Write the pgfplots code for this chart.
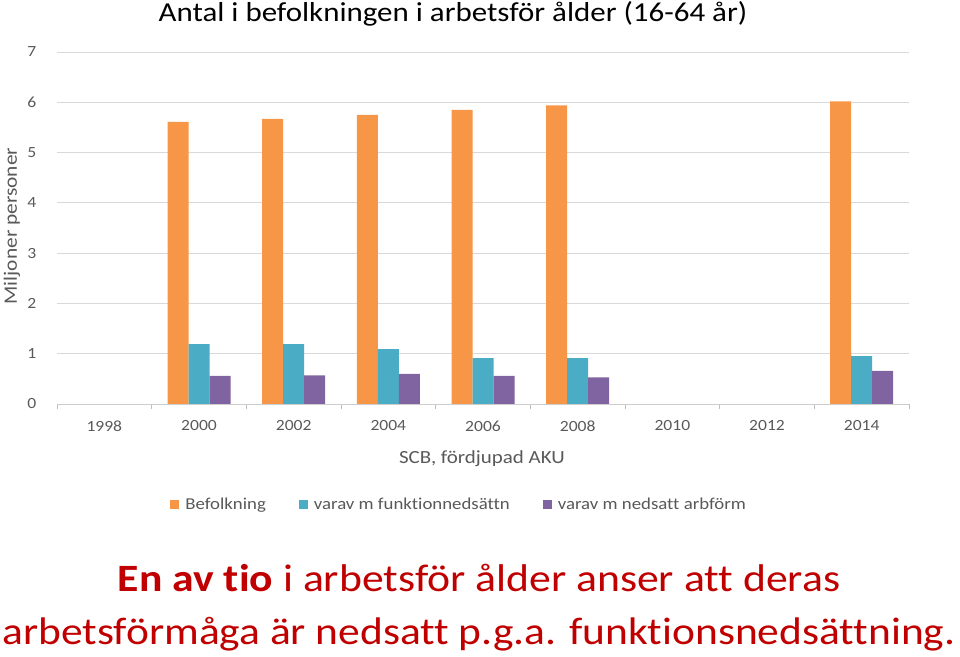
\documentclass[border=0pt]{standalone}
\usepackage{pgfplots}
\pgfplotsset{compat=1.18}
\usepackage{graphicx}
\usepackage{fontspec}
\setmainfont[Ligatures=NoCommon]{Carlito}
\definecolor{cOr}{HTML}{F79646}
\definecolor{cTe}{HTML}{4BACC6}
\definecolor{cPu}{HTML}{8064A2}
\definecolor{cGr}{HTML}{595959}
\definecolor{cRed}{HTML}{C00000}
\newcommand{\sx}[1]{\scalebox{1.13}[1]{#1}}
\begin{document}
\begin{tikzpicture}[x=1bp,y=1bp]
\begin{axis}[
  at={(57bp,253bp)}, anchor=south west,
  scale only axis, width=852bp, height=352bp,
  xmin=-0.5, xmax=8.5, ymin=0, ymax=7,
  ytick={0,...,7},
  xtick={0,...,8},
  xticklabels={1998,2000,2002,2004,2006,2008,2010,2012,2014},
  minor xtick={-0.5,0.5,...,8.5},
  major x tick style={draw=none},
  minor x tick style={draw=black!25, line width=0.8pt},
  minor tick length=5bp,
  tick align=outside,
  xtick pos=bottom,
  ytick pos=left,
  major y tick style={draw=none},
  axis x line*=bottom,
  axis y line*=left,
  y axis line style={draw=none},
  x axis line style={draw=black!20, line width=0.8pt, -},
  ymajorgrids, grid style={draw=black!15, line width=0.8pt},
  ticklabel style={font=\fontsize{15.6}{18}\selectfont, text=cGr, xscale=1.13},
  xticklabel style={yshift=-9bp},
  yticklabel style={xshift=-11bp},
  /pgf/number format/assume math mode=true,
  ybar, bar width=21bp,
  every axis plot/.append style={draw=none},
  legend columns=3,
  legend style={at={(axis description cs:0.472,-0.285)}, anchor=center, draw=none,
    font=\fontsize{16.7}{20}\selectfont, text=cGr,
    /tikz/every odd column/.append style={column sep=4bp},
    /tikz/every even column/.append style={column sep=31bp}},
  legend image code/.code={\fill[#1] (0bp,-4.5bp) rectangle (9bp,4.5bp);},
]
\addplot[fill=cOr, bar shift=-21bp] coordinates {(1,5.61) (2,5.67) (3,5.75) (4,5.85) (5,5.94) (8,6.02)};
\addplot[fill=cTe, bar shift=0bp] coordinates {(1,1.19) (2,1.19) (3,1.09) (4,0.91) (5,0.91) (8,0.95)};
\addplot[fill=cPu, bar shift=21bp] coordinates {(1,0.56) (2,0.57) (3,0.60) (4,0.56) (5,0.53) (8,0.66)};
\legend{\sx{Befolkning}, \sx{varav m funktionnedsättn}, \sx{varav m nedsatt arbförm}}
\end{axis}
\node[font=\fontsize{27.5}{32}\selectfont, anchor=base] at (453,635) {\sx{Antal i befolkningen i arbetsför ålder (16-64 år)}};
\node[rotate=90, font=\fontsize{19}{22}\selectfont, text=cGr] at (12,431) {\sx{Miljoner personer}};
\node[font=\fontsize{18.6}{22}\selectfont, text=cGr] at (482,198) {\sx{SCB, fördjupad AKU}};
\node[font=\fontsize{38.8}{44}\selectfont, text=cRed, anchor=base] at (479,65) {\sx{\textbf{En av tio} i arbetsför ålder anser att deras}};
\node[font=\fontsize{38.6}{44}\selectfont, text=cRed, anchor=base] at (479,12) {\sx{arbetsförmåga är nedsatt p.g.a. funktionsnedsättning.}};
\pgfresetboundingbox
\path[use as bounding box] (0,0) rectangle (960,657);
\end{tikzpicture}
\end{document}
